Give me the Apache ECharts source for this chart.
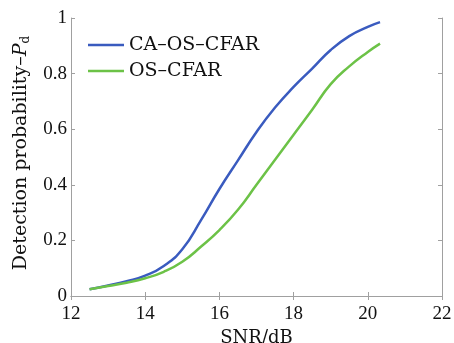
<!DOCTYPE html>
<html>
<head>
<meta charset="utf-8">
<script src="https://cdn.jsdelivr.net/npm/echarts@6/dist/echarts.min.js"></script>
<style>
    html, body { margin: 0; padding: 0; background: #fff; }
    #chart { width: 454px; height: 343px; }
</style>
</head>
<body>
<div id="chart"></div>
<script>
var snr = [12.5, 13, 13.5, 14, 14.5, 15, 15.5, 16, 16.5, 17, 17.5, 18, 18.5, 19, 19.5, 20, 20.33];
var caOsCfar = [0.024, 0.038, 0.053, 0.073, 0.108, 0.168, 0.272, 0.385, 0.488, 0.59, 0.678, 0.752, 0.818, 0.885, 0.935, 0.968, 0.985];
var osCfar = [0.024, 0.036, 0.048, 0.064, 0.087, 0.123, 0.177, 0.237, 0.31, 0.4, 0.49, 0.58, 0.67, 0.762, 0.826, 0.878, 0.908];
var seriesNames = ['CA\u2013OS\u2013CFAR', 'OS\u2013CFAR'];

(function () {
    var myChart = echarts.init(document.getElementById('chart'));

    var pairs = function (ys) {
        var res = [];
        for (var i = 0; i < snr.length; i++) {
            res.push([snr[i], ys[i]]);
        }
        return res;
    };

    var serif = 'DejaVu Serif';
    var tickFont = 'Liberation Serif';
    var frame = { show: true, lineStyle: { color: '#a0a0a0', width: 1 } };
    var tick = { show: true, inside: true, length: 4, lineStyle: { color: '#a0a0a0' } };

    var option = {
        backgroundColor: '#fff',
        animation: false,
        grid: { left: 71, right: 12, top: 18, bottom: 47, containLabel: false, outerBoundsMode: 'none' },
        legend: {
            orient: 'vertical',
            left: 83,
            top: 30,
            icon: 'rect',
            itemWidth: 36,
            itemHeight: 2.5,
            itemGap: 6,
            textStyle: { fontFamily: serif, fontSize: 19, color: '#111', lineHeight: 20 },
            data: seriesNames
        },
        xAxis: [{
            type: 'value',
            min: 12,
            max: 22,
            interval: 2,
            name: 'SNR/dB',
            nameLocation: 'middle',
            nameGap: 27,
            nameTextStyle: { fontFamily: serif, fontSize: 18, color: '#111' },
            axisLine: frame,
            axisTick: tick,
            axisLabel: { fontFamily: tickFont, fontSize: 19, color: '#111', margin: 9 },
            splitLine: { show: false }
        }, {
            type: 'value',
            position: 'top',
            min: 12,
            max: 22,
            interval: 2,
            axisLine: frame,
            axisTick: tick,
            axisLabel: { show: false },
            splitLine: { show: false }
        }],
        yAxis: [{
            type: 'value',
            min: 0,
            max: 1,
            interval: 0.2,
            name: '{t|Detection probability\u2013}{p|P}{s|d}',
            nameLocation: 'middle',
            nameGap: 38,
            nameTextStyle: {
                padding: [0, 0, 0, 8],
                rich: {
                    t: { fontFamily: serif, fontSize: 19, color: '#111', lineHeight: 22 },
                    p: { fontFamily: serif, fontSize: 19, fontStyle: 'italic', color: '#111', lineHeight: 22 },
                    s: { fontFamily: serif, fontSize: 12, color: '#111', lineHeight: 22, verticalAlign: 'bottom' }
                }
            },
            axisLine: frame,
            axisTick: tick,
            axisLabel: { fontFamily: tickFont, fontSize: 19, color: '#111', margin: 4, padding: [10, 0, 0, 0] },
            splitLine: { show: false }
        }, {
            type: 'value',
            position: 'right',
            min: 0,
            max: 1,
            interval: 0.2,
            axisLine: frame,
            axisTick: tick,
            axisLabel: { show: false },
            splitLine: { show: false }
        }],
        series: [
            {
                name: seriesNames[0],
                type: 'line',
                smooth: true,
                symbol: 'none',
                lineStyle: { color: '#3a5bbf', width: 2.5 },
                itemStyle: { color: '#3a5bbf' },
                data: pairs(caOsCfar)
            },
            {
                name: seriesNames[1],
                type: 'line',
                smooth: true,
                symbol: 'none',
                lineStyle: { color: '#6cc247', width: 2.5 },
                itemStyle: { color: '#6cc247' },
                data: pairs(osCfar)
            }
        ]
    };
    myChart.setOption(option);
    window.addEventListener('resize', function () {
        myChart.resize();
    });
})();
</script>
</body>
</html>
